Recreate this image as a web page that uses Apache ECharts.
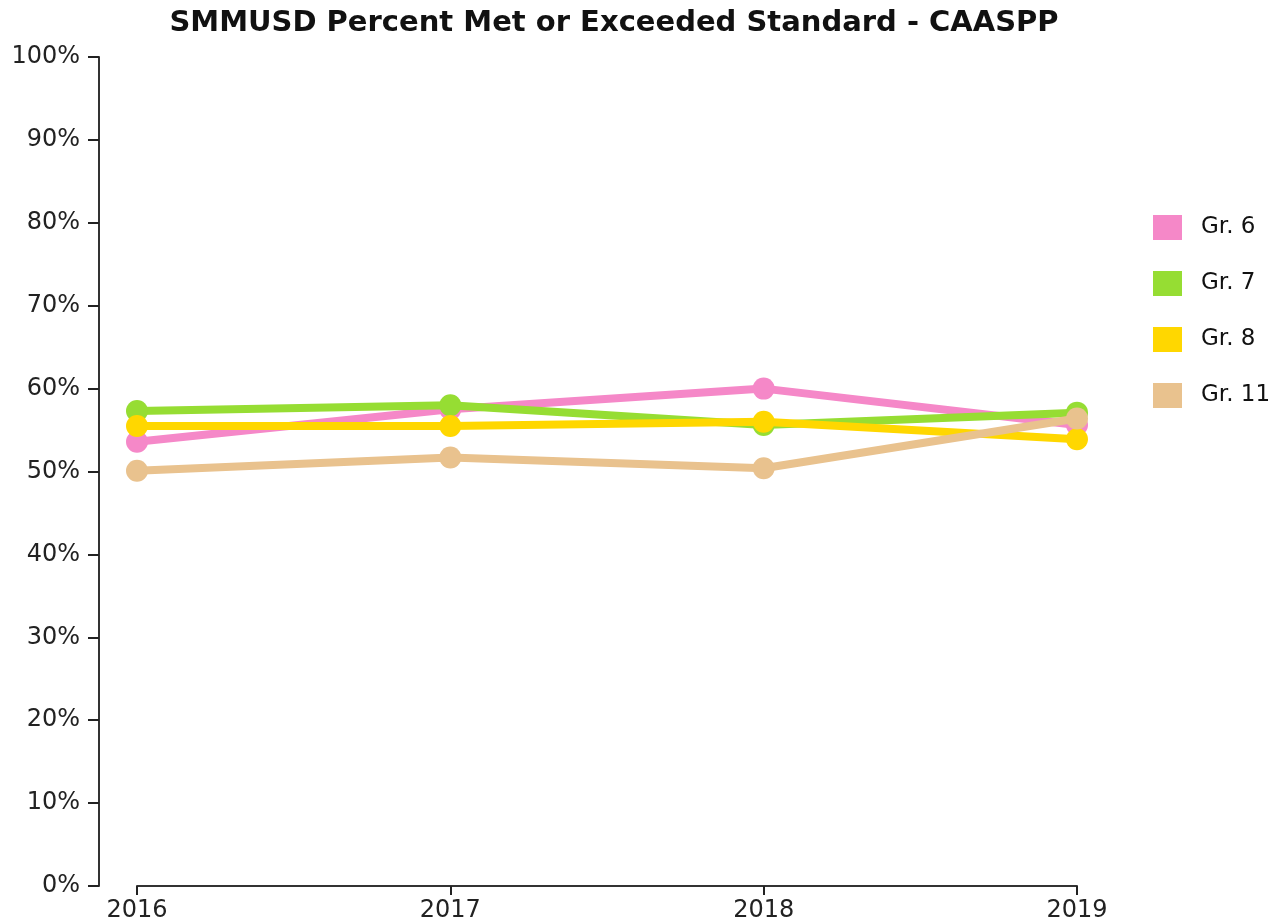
<!DOCTYPE html>
<html>
<head>
<meta charset="utf-8">
<script src="https://cdn.jsdelivr.net/npm/echarts@6/dist/echarts.min.js"></script>
<style>
html, body { margin: 0; padding: 0; background: #fff; }
#chart { width: 1276px; height: 923px; }
</style>
</head>
<body>
<div id="chart"></div>
<script>
// 年份
const years = ['2016', '2017', '2018', '2019'];
// 各年级达标百分比
const gr6 = [53.6, 57.5, 60.0, 55.6];
const gr7 = [57.3, 58.0, 55.6, 57.1];
const gr8 = [55.5, 55.5, 56.0, 53.9];
const gr11 = [50.1, 51.7, 50.4, 56.4];
const seriesNames = ['Gr. 6', 'Gr. 7', 'Gr. 8', 'Gr. 11'];
const colorArr = ['#f588c8', '#96dd33', '#ffd700', '#e9c28e'];

const dom = document.getElementById('chart');
const myChart = echarts.init(dom);

const seriesArr = [gr6, gr7, gr8, gr11].map((list, index) => ({
    name: seriesNames[index],
    type: 'line',
    data: list,
    symbol: 'circle',
    symbolSize: 22,
    itemStyle: { color: colorArr[index] },
    lineStyle: { width: 8, color: colorArr[index] },
    z: 2 + index
}));

const option = {
    backgroundColor: '#fff',
    animation: false,
    title: {
        text: 'SMMUSD Percent Met or Exceeded Standard - CAASPP',
        left: 609,
        textAlign: 'center',
        top: 4,
        textStyle: {
            fontFamily: 'DejaVu Sans',
            fontWeight: 'bold',
            fontSize: 29,
            color: '#111'
        }
    },
    legend: {
        orient: 'vertical',
        left: 1153,
        top: 215,
        padding: 0,
        icon: 'rect',
        itemWidth: 29,
        itemHeight: 25,
        itemGap: 31,
        itemStyle: { borderWidth: 0 },
        textStyle: {
            fontFamily: 'DejaVu Sans',
            fontSize: 23,
            color: '#111',
            padding: [0, 0, 0, 14]
        },
        data: seriesNames
    },
    grid: {
        left: 137,
        right: 199,
        top: 57,
        bottom: 37
    },
    xAxis: {
        type: 'category',
        data: years,
        boundaryGap: false,
        axisLine: { lineStyle: { color: '#333', width: 2 } },
        axisTick: { length: 9, lineStyle: { color: '#222', width: 2 } },
        axisLabel: {
            margin: 13,
            fontFamily: 'DejaVu Sans',
            fontSize: 24,
            color: '#222'
        },
        splitLine: { show: false }
    },
    yAxis: {
        type: 'value',
        min: 0,
        max: 100,
        interval: 10,
        offset: 38,
        axisLine: { show: true, lineStyle: { color: '#333', width: 2 } },
        axisTick: { show: true, length: 11, lineStyle: { color: '#222', width: 2 } },
        axisLabel: {
            margin: 19,
            formatter: '{value}%',
            fontFamily: 'DejaVu Sans',
            fontSize: 24,
            color: '#222'
        },
        splitLine: { show: false }
    },
    series: seriesArr
};

myChart.setOption(option);
</script>
</body>
</html>
